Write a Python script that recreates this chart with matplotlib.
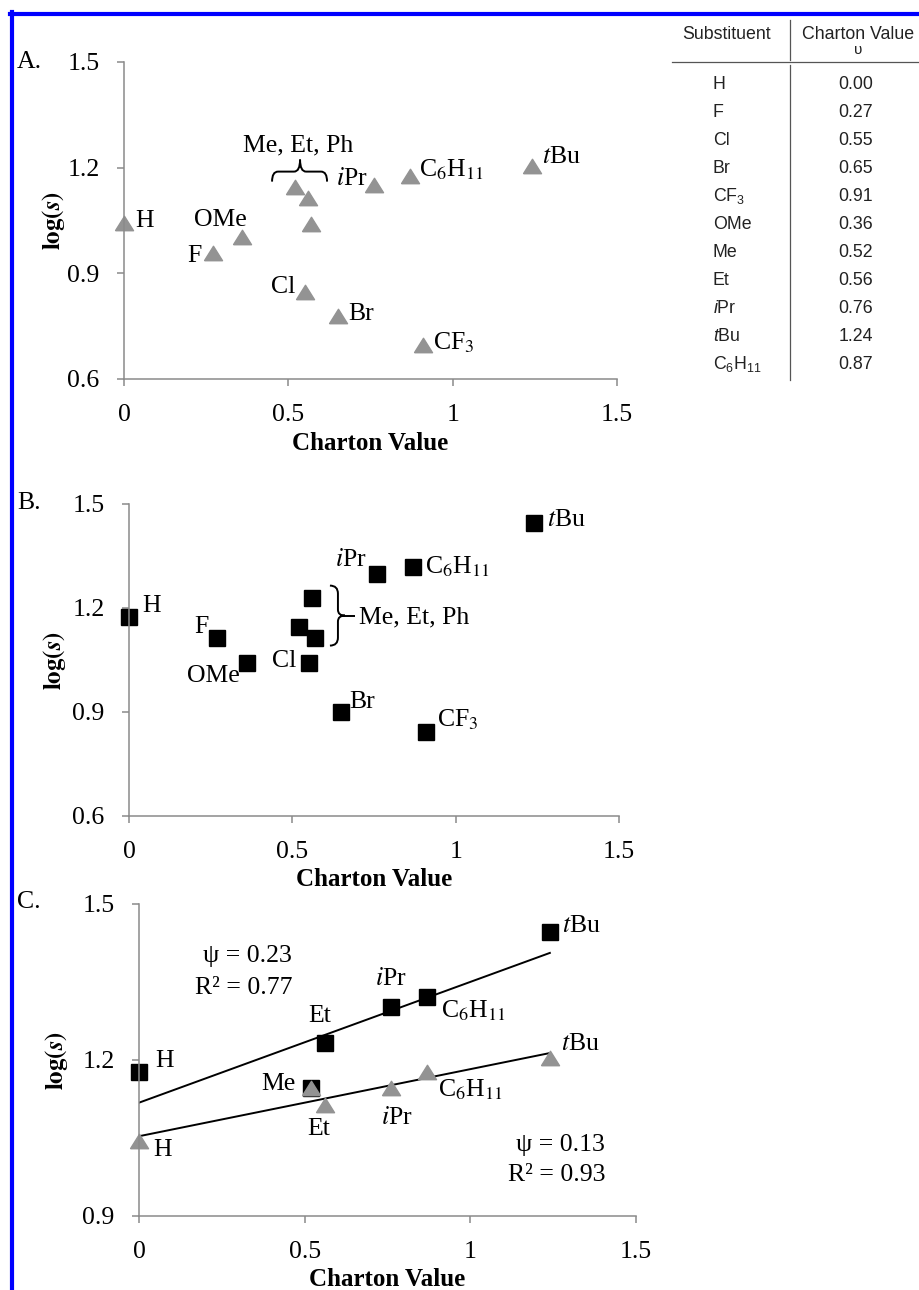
import numpy as np
import matplotlib
matplotlib.use('Agg')
import matplotlib.pyplot as plt
import matplotlib.transforms as mtransforms
from matplotlib.lines import Line2D
from matplotlib.path import Path
from matplotlib.patches import PathPatch

# ---- table data ----
tab_names = ['H', 'F', 'Cl', 'Br', 'CF3', 'OMe', 'Me', 'Et', 'iPr', 'tBu', 'C6H11']
tab_values = ['0.00', '0.27', '0.55', '0.65', '0.91', '0.36', '0.52', '0.56', '0.76', '1.24', '0.87']

# ---- panel A (grey triangles) ----
a_names = ['H', 'F', 'OMe', 'Me', 'Et', 'Ph', 'Cl', 'Br', 'CF3', 'iPr', 'C6H11', 'tBu']
a_x = [0.00, 0.27, 0.36, 0.52, 0.56, 0.57, 0.55, 0.65, 0.91, 0.76, 0.87, 1.24]
a_y = [1.042, 0.957, 1.002, 1.146, 1.115, 1.039, 0.846, 0.778, 0.696, 1.152, 1.177, 1.206]

# ---- panel B (black squares) ----
b_names = ['H', 'F', 'OMe', 'Me', 'Et', 'Ph', 'Cl', 'Br', 'CF3', 'iPr', 'C6H11', 'tBu']
b_x = [0.00, 0.27, 0.36, 0.52, 0.56, 0.57, 0.55, 0.65, 0.91, 0.76, 0.87, 1.24]
b_y = [1.174, 1.113, 1.041, 1.145, 1.230, 1.113, 1.041, 0.901, 0.843, 1.298, 1.318, 1.445]

# ---- panel C (alkyl subset, both series) ----
c_names = ['H', 'Me', 'Et', 'iPr', 'C6H11', 'tBu']
c_x = [0.00, 0.52, 0.56, 0.76, 0.87, 1.24]
c_sq = [1.177, 1.146, 1.232, 1.302, 1.322, 1.446]
c_tri = [1.044, 1.146, 1.114, 1.146, 1.176, 1.204]

x_ticks = [0, 0.5, 1, 1.5]
x_ticklabels = ['0', '0.5', '1', '1.5']

plt.rcParams['font.family'] = ['Liberation Serif', 'DejaVu Serif']
plt.rcParams['mathtext.fontset'] = 'stix'

W, H = 919, 1290
FS = 18.5
GREY = '#939393'
AXGREY = '#8a8a8a'
BASE = 8.5  # half cap height in px

fig = plt.figure(figsize=(W / 100, H / 100), dpi=100)

def px_axes(l, r, t, b):
    return fig.add_axes([l / W, 1 - b / H, (r - l) / W, (b - t) / H])

tri_marker = [(-1, -0.8), (1, -0.8), (0, 0.8), (-1, -0.8)]

lab = {'H': 'H', 'F': 'F', 'Cl': 'Cl', 'Br': 'Br', 'CF3': r'CF$_3$', 'OMe': 'OMe',
       'Me': 'Me', 'Et': 'Et', 'iPr': r'$\it{i}$Pr', 'tBu': r'$\it{t}$Bu',
       'C6H11': r'C$_6$H$_{11}$', 'Ph': ''}

def style(ax, yticks, ylim, ylab_x):
    ax.set_xlim(0, 1.5)
    ax.set_ylim(*ylim)
    for s in ['top', 'right']:
        ax.spines[s].set_visible(False)
    for s in ['left', 'bottom']:
        ax.spines[s].set_color(AXGREY)
        ax.spines[s].set_linewidth(1.1)
    ax.set_xticks(x_ticks)
    ax.set_xticklabels(x_ticklabels)
    ax.set_yticks(yticks)
    ax.set_yticklabels(['%.1f' % v for v in yticks])
    ax.tick_params(axis='both', direction='out', length=5, width=1.1, color=AXGREY,
                   labelsize=FS)
    ax.tick_params(axis='x', pad=13)
    ax.tick_params(axis='y', pad=12.5)
    ax.set_xlabel('Charton Value', fontsize=18, fontweight='bold')
    ax.xaxis.label.set_va('center')
    hpx = ax.get_position().height * H
    ax.xaxis.set_label_coords(0.5, -64 / hpx)
    ax.set_ylabel(r'$\mathbf{log(}\mathbfit{s}\mathbf{)}$', fontsize=18)
    ax.yaxis.set_label_coords(ylab_x, 0.5)

def label(ax, x, y, name, ha, dx, dy):
    ax.annotate(lab[name], (x, y), xytext=(dx, dy - BASE), textcoords='offset pixels',
                ha=ha, va='baseline', fontsize=FS, annotation_clip=False)

def brace(ax, anchor, verts, codes):
    ox, oy = ax.transData.transform(anchor)
    tr = mtransforms.Affine2D().translate(ox, oy)
    p = PathPatch(Path(verts, codes), transform=tr, fill=False, lw=1.4, color='black')
    p.set_clip_on(False)
    fig.add_artist(p)

# ================= A =================
axA = px_axes(124, 617, 62, 379)
style(axA, [0.6, 0.9, 1.2, 1.5], (0.6, 1.5), -0.116)
axA.plot(a_x, a_y, linestyle='none', marker=tri_marker, ms=13, color=GREY, clip_on=False)
a_off = {'H': ('left', 11, 5), 'F': ('right', -11, 0), 'OMe': ('right', 4, 20),
         'Cl': ('right', -10, 8), 'Br': ('left', 11, 5), 'CF3': ('left', 10, 4),
         'iPr': ('right', -6, 8), 'C6H11': ('left', 9, 8), 'tBu': ('left', 10, 11)}
for n, x, y in zip(a_names, a_x, a_y):
    if n in a_off:
        ha, dx, dy = a_off[n]
        label(axA, x, y, n, ha, dx, dy)
et_a = (a_x[a_names.index('Et')], a_y[a_names.index('Et')])
axA.annotate('Me, Et, Ph', et_a, xytext=(-10, 55 - BASE), textcoords='offset pixels',
             ha='center', va='baseline', fontsize=FS)
M, L, C3 = Path.MOVETO, Path.LINETO, Path.CURVE3
brace(axA, et_a,
      [(-36, 16), (-36, 26), (-30, 26), (-14, 26), (-8, 26), (-8, 38),
       (-8, 26), (-2, 26), (13, 26), (19, 26), (19, 16)],
      [M, C3, C3, L, C3, C3, C3, C3, L, C3, C3])

# ================= B =================
axB = px_axes(129, 619, 504, 816)
style(axB, [0.6, 0.9, 1.2, 1.5], (0.6, 1.5), -0.124)
axB.plot(b_x, b_y, linestyle='none', marker='s', ms=11.5, color='black', clip_on=False)
b_off = {'H': ('left', 13, 14), 'F': ('right', -9, 14), 'OMe': ('right', -7, -10),
         'Cl': ('right', -12, 5), 'Br': ('left', 8, 12), 'CF3': ('left', 11, 14),
         'iPr': ('right', -11, 17), 'C6H11': ('left', 12, 2), 'tBu': ('left', 13, 6)}
for n, x, y in zip(b_names, b_x, b_y):
    if n in b_off:
        ha, dx, dy = b_off[n]
        label(axB, x, y, n, ha, dx, dy)
et_b = (b_x[b_names.index('Et')], b_y[b_names.index('Et')])
brace(axB, et_b,
      [(18, 12), (26, 12), (26, 4), (26, -12), (26, -18), (33, -18),
       (26, -18), (26, -24), (26, -40), (26, -48), (18, -48)],
      [M, C3, C3, L, C3, C3, C3, C3, L, C3, C3])
brace(axB, et_b, [(33, -18), (43, -18)], [M, L])
axB.annotate('Me, Et, Ph', et_b, xytext=(47, -17 - BASE), textcoords='offset pixels',
             ha='left', va='baseline', fontsize=FS)

# ================= C =================
axC = px_axes(139, 636, 904, 1216)
style(axC, [0.9, 1.2, 1.5], (0.9, 1.5), -0.139)
xs = np.array([0, max(c_x)])
for ys in (c_sq, c_tri):
    k, b0 = np.polyfit(c_x, ys, 1)
    axC.plot(xs, k * xs + b0, color='black', lw=1.4)
axC.plot(c_x, c_sq, linestyle='none', marker='s', ms=11, color='black', clip_on=False)
axC.plot(c_x, c_tri, linestyle='none', marker=tri_marker, ms=13, color=GREY, clip_on=False)
sq_off = {'H': ('left', 16, 13), 'Me': ('right', -16, 7), 'Et': ('center', -5, 30),
          'iPr': ('center', 0, 30), 'C6H11': ('left', 14, -12), 'tBu': ('left', 12, 9)}
tri_off = {'H': ('left', 14, -6), 'Et': ('center', -6, -22), 'iPr': ('center', 6, -27),
           'C6H11': ('left', 11, -15), 'tBu': ('left', 11, 16)}
for n, x, ys, yt in zip(c_names, c_x, c_sq, c_tri):
    if n in sq_off:
        ha, dx, dy = sq_off[n]
        label(axC, x, ys, n, ha, dx, dy)
    if n in tri_off:
        ha, dx, dy = tri_off[n]
        label(axC, x, yt, n, ha, dx, dy)
axC.text(0.308, 0.833, 'ψ = 0.23', transform=axC.transAxes, ha='right', va='center', fontsize=FS)
axC.text(0.308, 0.731, 'R² = 0.77', transform=axC.transAxes, ha='right', va='center', fontsize=FS)
axC.text(0.938, 0.228, 'ψ = 0.13', transform=axC.transAxes, ha='right', va='center', fontsize=FS)
axC.text(0.938, 0.131, 'R² = 0.93', transform=axC.transAxes, ha='right', va='center', fontsize=FS)

# panel letters
for t, y in (('A.', 62), ('B.', 503), ('C.', 902)):
    fig.text(17 / W, 1 - y / H, t, ha='left', va='center', fontsize=18.5)

# ================= table =================
SANS = ['Liberation Sans', 'DejaVu Sans']
TFS = 12.8
plt.rcParams['mathtext.rm'] = 'Liberation Sans'
plt.rcParams['mathtext.it'] = 'Liberation Sans:italic'
tlab = {'CF3': r'CF$_3$', 'iPr': r'$\it{i}$Pr', 'tBu': r'$\it{t}$Bu', 'C6H11': r'C$_6$H$_{11}$'}

def ft(x, y, s, ha='center', size=TFS, **kw):
    fig.text(x / W, 1 - y / H, s, ha=ha, va='baseline', fontsize=size, family=SANS,
             color='#222222', **kw)

ft(727, 39, 'Substituent')
ft(858, 39, 'Charton Value')
ft(858, 54, 'υ', size=11)
for i, (n, v) in enumerate(zip(tab_names, tab_values)):
    y = 89 + i * 28.0
    if n in tlab:
        ft(713, y, tlab[n], ha='left', math_fontfamily='custom')
    else:
        ft(713, y, n, ha='left')
    ft(856, y, v)

def fline(xs, ys, **kw):
    fig.add_artist(Line2D([x / W for x in xs], [1 - y / H for y in ys],
                          transform=fig.transFigure, **kw))

fline([790, 790], [20, 60], color='#555555', lw=0.9)
fline([790, 790], [65, 380], color='#555555', lw=0.9)
fline([672, 919], [62, 62], color='#555555', lw=0.9)

# blue frame (cropped at right and bottom)
fline([10, 919], [14, 14], color='#0000ff', lw=3)
fline([12, 12], [12, 1290], color='#0000ff', lw=3)

fig.savefig('out.png', dpi=100)
